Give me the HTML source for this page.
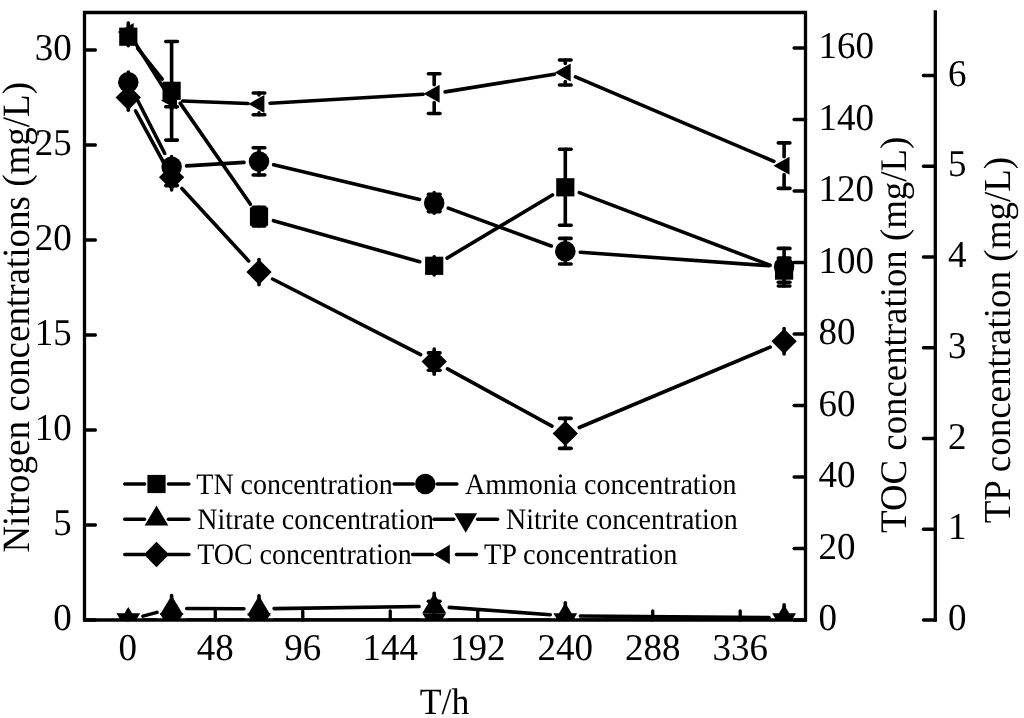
<!DOCTYPE html>
<html><head><meta charset="utf-8"><style>html,body{margin:0;padding:0;background:#fff;}svg{display:block;will-change:transform;}</style></head>
<body><svg width="1024" height="718" viewBox="0 0 1024 718" text-rendering="geometricPrecision">
<rect width="1024" height="718" fill="#fff"/>
<defs><clipPath id="pc"><rect x="84.5" y="12.5" width="721" height="607.5"/></clipPath></defs>
<g clip-path="url(#pc)" fill="#000" stroke="none">
<g stroke="#000" stroke-width="3.6" stroke-linecap="round"><line x1="137.67" y1="48.41" x2="162.23" y2="79.09"/><line x1="180.16" y1="103.12" x2="250.44" y2="204.28"/><line x1="273.44" y1="220.66" x2="419.76" y2="261.74"/><line x1="447.07" y1="258.09" x2="552.43" y2="195.01"/><line x1="579.32" y1="192.64" x2="770.08" y2="265.26"/><line x1="135.13" y1="95.55" x2="164.77" y2="153.45"/><line x1="186.57" y1="165.87" x2="244.03" y2="162.33"/><line x1="273.60" y1="164.86" x2="419.60" y2="199.44"/><line x1="448.28" y1="208.09" x2="551.22" y2="246.01"/><line x1="580.26" y1="252.27" x2="769.14" y2="265.73"/><line x1="135.55" y1="110.86" x2="164.35" y2="163.94"/><line x1="181.90" y1="188.48" x2="248.70" y2="260.92"/><line x1="272.54" y1="279.01" x2="420.66" y2="354.69"/><line x1="447.53" y1="368.90" x2="551.97" y2="426.10"/><line x1="579.31" y1="427.50" x2="770.09" y2="347.20"/><line x1="134.22" y1="41.39" x2="165.68" y2="91.21"/><line x1="182.69" y1="101.02" x2="247.91" y2="103.48"/><line x1="270.08" y1="103.25" x2="423.12" y2="94.30"/><line x1="445.16" y1="91.88" x2="554.34" y2="74.27"/><line x1="575.51" y1="76.85" x2="773.89" y2="161.30"/><line x1="142.89" y1="616.12" x2="157.01" y2="612.38"/><line x1="186.70" y1="608.55" x2="243.90" y2="608.75"/><line x1="274.10" y1="608.58" x2="419.10" y2="606.52"/><line x1="449.26" y1="607.39" x2="550.24" y2="614.71"/><line x1="580.40" y1="615.93" x2="769.00" y2="617.57"/><line x1="143.40" y1="620.00" x2="156.50" y2="620.00"/><line x1="186.70" y1="620.00" x2="243.90" y2="620.00"/><line x1="274.10" y1="620.00" x2="419.10" y2="620.00"/><line x1="449.30" y1="620.00" x2="550.20" y2="620.00"/><line x1="580.40" y1="620.00" x2="769.00" y2="620.00"/></g>
<g stroke="#000" stroke-width="3.6" stroke-linecap="round"><line x1="128.30" y1="36.70" x2="128.30" y2="27.60"/><line x1="128.30" y1="36.70" x2="128.30" y2="45.80"/><line x1="171.60" y1="41.50" x2="171.60" y2="81.70"/><line x1="171.60" y1="140.10" x2="171.60" y2="99.90"/><line x1="165.80" y1="41.50" x2="177.40" y2="41.50"/><line x1="165.80" y1="140.10" x2="177.40" y2="140.10"/><line x1="259.00" y1="207.20" x2="259.00" y2="207.50"/><line x1="259.00" y1="226.00" x2="259.00" y2="225.70"/><line x1="253.20" y1="207.20" x2="264.80" y2="207.20"/><line x1="253.20" y1="226.00" x2="264.80" y2="226.00"/><line x1="434.20" y1="262.80" x2="434.20" y2="256.70"/><line x1="434.20" y1="268.80" x2="434.20" y2="274.90"/><line x1="428.40" y1="262.80" x2="440.00" y2="262.80"/><line x1="428.40" y1="268.80" x2="440.00" y2="268.80"/><line x1="565.30" y1="149.30" x2="565.30" y2="178.20"/><line x1="565.30" y1="225.30" x2="565.30" y2="196.40"/><line x1="559.50" y1="149.30" x2="571.10" y2="149.30"/><line x1="559.50" y1="225.30" x2="571.10" y2="225.30"/><line x1="784.10" y1="258.00" x2="784.10" y2="261.50"/><line x1="784.10" y1="282.20" x2="784.10" y2="279.70"/><line x1="778.30" y1="258.00" x2="789.90" y2="258.00"/><line x1="778.30" y1="282.20" x2="789.90" y2="282.20"/><line x1="128.30" y1="32.00" x2="128.30" y2="23.00"/><line x1="128.30" y1="32.00" x2="128.30" y2="41.00"/><line x1="171.60" y1="94.40" x2="171.60" y2="91.60"/><line x1="171.60" y1="106.80" x2="171.60" y2="109.60"/><line x1="165.80" y1="94.40" x2="177.40" y2="94.40"/><line x1="165.80" y1="106.80" x2="177.40" y2="106.80"/><line x1="259.00" y1="93.00" x2="259.00" y2="94.90"/><line x1="259.00" y1="114.80" x2="259.00" y2="112.90"/><line x1="253.20" y1="93.00" x2="264.80" y2="93.00"/><line x1="253.20" y1="114.80" x2="264.80" y2="114.80"/><line x1="434.20" y1="73.80" x2="434.20" y2="84.65"/><line x1="434.20" y1="113.50" x2="434.20" y2="102.65"/><line x1="428.40" y1="73.80" x2="440.00" y2="73.80"/><line x1="428.40" y1="113.50" x2="440.00" y2="113.50"/><line x1="565.30" y1="60.00" x2="565.30" y2="63.50"/><line x1="565.30" y1="85.00" x2="565.30" y2="81.50"/><line x1="559.50" y1="60.00" x2="571.10" y2="60.00"/><line x1="559.50" y1="85.00" x2="571.10" y2="85.00"/><line x1="784.10" y1="142.90" x2="784.10" y2="156.65"/><line x1="784.10" y1="188.40" x2="784.10" y2="174.65"/><line x1="778.30" y1="142.90" x2="789.90" y2="142.90"/><line x1="778.30" y1="188.40" x2="789.90" y2="188.40"/><line x1="128.30" y1="82.20" x2="128.30" y2="71.95"/><line x1="128.30" y1="82.20" x2="128.30" y2="92.45"/><line x1="171.60" y1="166.80" x2="171.60" y2="156.55"/><line x1="171.60" y1="166.80" x2="171.60" y2="177.05"/><line x1="259.00" y1="147.80" x2="259.00" y2="151.15"/><line x1="259.00" y1="175.00" x2="259.00" y2="171.65"/><line x1="253.20" y1="147.80" x2="264.80" y2="147.80"/><line x1="253.20" y1="175.00" x2="264.80" y2="175.00"/><line x1="434.20" y1="194.20" x2="434.20" y2="192.65"/><line x1="434.20" y1="211.60" x2="434.20" y2="213.15"/><line x1="428.40" y1="194.20" x2="440.00" y2="194.20"/><line x1="428.40" y1="211.60" x2="440.00" y2="211.60"/><line x1="565.30" y1="238.40" x2="565.30" y2="240.95"/><line x1="565.30" y1="264.00" x2="565.30" y2="261.45"/><line x1="559.50" y1="238.40" x2="571.10" y2="238.40"/><line x1="559.50" y1="264.00" x2="571.10" y2="264.00"/><line x1="784.10" y1="248.40" x2="784.10" y2="256.55"/><line x1="784.10" y1="286.00" x2="784.10" y2="277.05"/><line x1="778.30" y1="248.40" x2="789.90" y2="248.40"/><line x1="778.30" y1="286.00" x2="789.90" y2="286.00"/><line x1="128.30" y1="97.50" x2="128.30" y2="84.85"/><line x1="128.30" y1="97.50" x2="128.30" y2="110.15"/><line x1="171.60" y1="169.00" x2="171.60" y2="164.65"/><line x1="171.60" y1="185.60" x2="171.60" y2="189.95"/><line x1="165.80" y1="169.00" x2="177.40" y2="169.00"/><line x1="165.80" y1="185.60" x2="177.40" y2="185.60"/><line x1="259.00" y1="269.10" x2="259.00" y2="259.45"/><line x1="259.00" y1="275.10" x2="259.00" y2="284.75"/><line x1="253.20" y1="269.10" x2="264.80" y2="269.10"/><line x1="253.20" y1="275.10" x2="264.80" y2="275.10"/><line x1="434.20" y1="352.90" x2="434.20" y2="348.95"/><line x1="434.20" y1="370.30" x2="434.20" y2="374.25"/><line x1="428.40" y1="352.90" x2="440.00" y2="352.90"/><line x1="428.40" y1="370.30" x2="440.00" y2="370.30"/><line x1="565.30" y1="418.40" x2="565.30" y2="420.75"/><line x1="565.30" y1="448.40" x2="565.30" y2="446.05"/><line x1="559.50" y1="418.40" x2="571.10" y2="418.40"/><line x1="559.50" y1="448.40" x2="571.10" y2="448.40"/><line x1="784.10" y1="338.30" x2="784.10" y2="328.65"/><line x1="784.10" y1="344.30" x2="784.10" y2="353.95"/><line x1="778.30" y1="338.30" x2="789.90" y2="338.30"/><line x1="778.30" y1="344.30" x2="789.90" y2="344.30"/><line x1="171.60" y1="608.50" x2="171.60" y2="595.50"/><line x1="171.60" y1="608.50" x2="171.60" y2="615.10"/><line x1="259.00" y1="608.80" x2="259.00" y2="595.80"/><line x1="259.00" y1="608.80" x2="259.00" y2="615.40"/><line x1="434.20" y1="601.20" x2="434.20" y2="593.30"/><line x1="434.20" y1="611.40" x2="434.20" y2="612.90"/><line x1="428.40" y1="601.20" x2="440.00" y2="601.20"/><line x1="428.40" y1="611.40" x2="440.00" y2="611.40"/><line x1="565.30" y1="615.80" x2="565.30" y2="602.80"/><line x1="565.30" y1="615.80" x2="565.30" y2="622.40"/><line x1="784.10" y1="617.70" x2="784.10" y2="604.70"/><line x1="784.10" y1="617.70" x2="784.10" y2="624.30"/></g>
<g><path d="M128.30 633.00L140.20 613.20L116.40 613.20Z"/><path d="M171.60 633.00L183.50 613.20L159.70 613.20Z"/><path d="M259.00 633.00L270.90 613.20L247.10 613.20Z"/><path d="M434.20 633.00L446.10 613.20L422.30 613.20Z"/><path d="M565.30 633.00L577.20 613.20L553.40 613.20Z"/><path d="M784.10 633.00L796.00 613.20L772.20 613.20Z"/><path d="M128.30 607.00L140.10 626.60L116.50 626.60Z"/><path d="M171.60 595.50L183.40 615.10L159.80 615.10Z"/><path d="M259.00 595.80L270.80 615.40L247.20 615.40Z"/><path d="M434.20 593.30L446.00 612.90L422.40 612.90Z"/><path d="M565.30 602.80L577.10 622.40L553.50 622.40Z"/><path d="M784.10 604.70L795.90 624.30L772.30 624.30Z"/><path d="M128.30 84.85L140.95 97.50L128.30 110.15L115.65 97.50Z"/><path d="M171.60 164.65L184.25 177.30L171.60 189.95L158.95 177.30Z"/><path d="M259.00 259.45L271.65 272.10L259.00 284.75L246.35 272.10Z"/><path d="M434.20 348.95L446.85 361.60L434.20 374.25L421.55 361.60Z"/><path d="M565.30 420.75L577.95 433.40L565.30 446.05L552.65 433.40Z"/><path d="M784.10 328.65L796.75 341.30L784.10 353.95L771.45 341.30Z"/><circle cx="128.30" cy="82.20" r="10.25"/><circle cx="171.60" cy="166.80" r="10.25"/><circle cx="259.00" cy="161.40" r="10.25"/><circle cx="434.20" cy="202.90" r="10.25"/><circle cx="565.30" cy="251.20" r="10.25"/><circle cx="784.10" cy="266.80" r="10.25"/><path d="M117.70 32.00L133.70 23.00L133.70 41.00Z"/><path d="M161.00 100.60L177.00 91.60L177.00 109.60Z"/><path d="M248.40 103.90L264.40 94.90L264.40 112.90Z"/><path d="M423.60 93.65L439.60 84.65L439.60 102.65Z"/><path d="M554.70 72.50L570.70 63.50L570.70 81.50Z"/><path d="M773.50 165.65L789.50 156.65L789.50 174.65Z"/><rect x="119.20" y="27.60" width="18.2" height="18.2"/><rect x="162.50" y="81.70" width="18.2" height="18.2"/><rect x="249.90" y="207.50" width="18.2" height="18.2"/><rect x="425.10" y="256.70" width="18.2" height="18.2"/><rect x="556.20" y="178.20" width="18.2" height="18.2"/><rect x="775.00" y="261.50" width="18.2" height="18.2"/></g>
</g>
<g stroke="#000" stroke-width="3.3" stroke-linecap="square" fill="none"><path d="M84.5 12.5H805.5V620H84.5Z" fill="none"/><line x1="935.3" y1="12" x2="935.3" y2="620"/></g>
<g stroke="#000" stroke-width="3.3" stroke-linecap="round" fill="none"><line x1="84.5" y1="620.00" x2="95.4" y2="620.00"/><line x1="84.5" y1="525.00" x2="95.4" y2="525.00"/><line x1="84.5" y1="430.00" x2="95.4" y2="430.00"/><line x1="84.5" y1="335.00" x2="95.4" y2="335.00"/><line x1="84.5" y1="240.00" x2="95.4" y2="240.00"/><line x1="84.5" y1="145.00" x2="95.4" y2="145.00"/><line x1="84.5" y1="50.00" x2="95.4" y2="50.00"/><line x1="805.5" y1="620.00" x2="794.1" y2="620.00"/><line x1="805.5" y1="548.50" x2="794.1" y2="548.50"/><line x1="805.5" y1="477.00" x2="794.1" y2="477.00"/><line x1="805.5" y1="405.50" x2="794.1" y2="405.50"/><line x1="805.5" y1="334.00" x2="794.1" y2="334.00"/><line x1="805.5" y1="262.50" x2="794.1" y2="262.50"/><line x1="805.5" y1="191.00" x2="794.1" y2="191.00"/><line x1="805.5" y1="119.50" x2="794.1" y2="119.50"/><line x1="805.5" y1="48.00" x2="794.1" y2="48.00"/><line x1="935.3" y1="620.00" x2="923.4" y2="620.00"/><line x1="935.3" y1="529.25" x2="923.4" y2="529.25"/><line x1="935.3" y1="438.50" x2="923.4" y2="438.50"/><line x1="935.3" y1="347.75" x2="923.4" y2="347.75"/><line x1="935.3" y1="257.00" x2="923.4" y2="257.00"/><line x1="935.3" y1="166.25" x2="923.4" y2="166.25"/><line x1="935.3" y1="75.50" x2="923.4" y2="75.50"/><line x1="127.80" y1="620" x2="127.80" y2="611.0"/><line x1="215.28" y1="620" x2="215.28" y2="611.0"/><line x1="302.77" y1="620" x2="302.77" y2="611.0"/><line x1="390.25" y1="620" x2="390.25" y2="611.0"/><line x1="477.74" y1="620" x2="477.74" y2="611.0"/><line x1="565.22" y1="620" x2="565.22" y2="611.0"/><line x1="652.71" y1="620" x2="652.71" y2="611.0"/><line x1="740.19" y1="620" x2="740.19" y2="611.0"/></g>
<g font-family='"Liberation Serif", serif' font-size="37" fill="#000"><text transform="translate(71.80 630.40) scale(1 1.025)" text-anchor="end">0</text><text transform="translate(71.80 535.40) scale(1 1.025)" text-anchor="end">5</text><text transform="translate(71.80 440.40) scale(1 1.025)" text-anchor="end">10</text><text transform="translate(71.80 345.40) scale(1 1.025)" text-anchor="end">15</text><text transform="translate(71.80 250.40) scale(1 1.025)" text-anchor="end">20</text><text transform="translate(71.80 155.40) scale(1 1.025)" text-anchor="end">25</text><text transform="translate(71.80 60.40) scale(1 1.025)" text-anchor="end">30</text><text transform="translate(818.40 630.40) scale(1 1.025)">0</text><text transform="translate(818.40 558.90) scale(1 1.025)">20</text><text transform="translate(818.40 487.40) scale(1 1.025)">40</text><text transform="translate(818.40 415.90) scale(1 1.025)">60</text><text transform="translate(818.40 344.40) scale(1 1.025)">80</text><text transform="translate(818.40 272.90) scale(1 1.025)">100</text><text transform="translate(818.40 201.40) scale(1 1.025)">120</text><text transform="translate(818.40 129.90) scale(1 1.025)">140</text><text transform="translate(818.40 58.40) scale(1 1.025)">160</text><text transform="translate(948.00 630.10) scale(1 1.025)">0</text><text transform="translate(948.00 539.35) scale(1 1.025)">1</text><text transform="translate(948.00 448.60) scale(1 1.025)">2</text><text transform="translate(948.00 357.85) scale(1 1.025)">3</text><text transform="translate(948.00 267.10) scale(1 1.025)">4</text><text transform="translate(948.00 176.35) scale(1 1.025)">5</text><text transform="translate(948.00 85.60) scale(1 1.025)">6</text><text transform="translate(127.80 660.00) scale(1 1.025)" text-anchor="middle">0</text><text transform="translate(215.28 660.00) scale(1 1.025)" text-anchor="middle">48</text><text transform="translate(302.77 660.00) scale(1 1.025)" text-anchor="middle">96</text><text transform="translate(390.25 660.00) scale(1 1.025)" text-anchor="middle">144</text><text transform="translate(477.74 660.00) scale(1 1.025)" text-anchor="middle">192</text><text transform="translate(565.22 660.00) scale(1 1.025)" text-anchor="middle">240</text><text transform="translate(652.71 660.00) scale(1 1.025)" text-anchor="middle">288</text><text transform="translate(740.19 660.00) scale(1 1.025)" text-anchor="middle">336</text><text x="444.6" y="714" text-anchor="middle" textLength="49.6" lengthAdjust="spacingAndGlyphs">T/h</text><text transform="translate(29.3 552.6) rotate(-90) scale(1 1.045)" font-size="37">Nitrogen concentrations (mg/L)</text><text transform="translate(905.6 532.9) rotate(-90) scale(1 1.02)" font-size="36.85">TOC concentration (mg/L)</text><text transform="translate(1010 523.3) rotate(-90) scale(1 1.03)">TP concentration (mg/L)</text></g>
<g font-family='"Liberation Serif", serif' font-size="29.7" fill="#000"><g stroke="#000" stroke-width="3.4" stroke-linecap="round"><line x1="124.7" y1="484" x2="144.6" y2="484"/><line x1="168.4" y1="484" x2="188.9" y2="484"/><line x1="394.2" y1="484" x2="413.40000000000003" y2="484"/><line x1="437.2" y1="484" x2="456.9" y2="484"/><line x1="124.7" y1="519.3" x2="144.6" y2="519.3"/><line x1="168.4" y1="519.3" x2="188.9" y2="519.3"/><line x1="434" y1="519.3" x2="453.8" y2="519.3"/><line x1="477.59999999999997" y1="519.3" x2="497.6" y2="519.3"/><line x1="124.7" y1="554.5" x2="144.6" y2="554.5"/><line x1="168.4" y1="554.5" x2="188.9" y2="554.5"/><line x1="412.6" y1="554.5" x2="432.6" y2="554.5"/><line x1="456.4" y1="554.5" x2="476.5" y2="554.5"/></g><g><rect x="147.40" y="474.90" width="18.2" height="18.2"/><circle cx="425.30" cy="484.00" r="10.25"/><path d="M156.50 505.60L168.35 525.60L144.65 525.60Z"/><path d="M465.70 532.80L477.15 513.20L454.25 513.20Z"/><path d="M156.50 541.85L169.15 554.50L156.50 567.15L143.85 554.50Z"/><path d="M433.70 554.50L449.80 544.85L449.80 564.15Z"/></g><text x="196.3" y="493.6" textLength="196.5" lengthAdjust="spacingAndGlyphs">TN concentration</text><text x="465" y="493.6" textLength="271.4" lengthAdjust="spacingAndGlyphs">Ammonia concentration</text><text x="197.2" y="529" textLength="236.9" lengthAdjust="spacingAndGlyphs">Nitrate concentration</text><text x="506" y="529" textLength="231.8" lengthAdjust="spacingAndGlyphs">Nitrite concentration</text><text x="197.2" y="564" textLength="214.6" lengthAdjust="spacingAndGlyphs">TOC concentration</text><text x="483.9" y="564" textLength="193.6" lengthAdjust="spacingAndGlyphs">TP concentration</text></g>
</svg></body></html>
